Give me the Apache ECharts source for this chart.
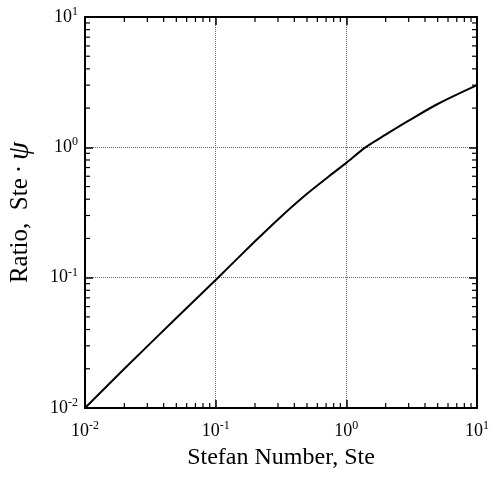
<!DOCTYPE html>
<html lang="en">
<head>
    <meta charset="UTF-8">
    <title>Stefan number ratio</title>
    <style>
        body { margin: 0; padding: 0; background: #fff; }
        #chart { width: 494px; height: 477px; }
    </style>
    <script src="https://cdn.jsdelivr.net/npm/echarts@6/dist/echarts.min.js"></script>
</head>
<body>
<div id="chart"></div>
<script>
	var chart = echarts.init(document.getElementById('chart'));

	// Stefan number (x) and ratio Ste*psi (y)
	var steValues = [0.01, 0.02, 0.05, 0.1, 0.2, 0.3, 0.5, 0.8, 1, 1.4, 2, 3, 5, 10];
	var ratioValues = [0.01, 0.02, 0.049, 0.096, 0.19, 0.28, 0.44, 0.64, 0.76, 1.0, 1.25, 1.6, 2.15, 3.0];
	var minorTicks = [
		0.02, 0.03, 0.04, 0.05, 0.06, 0.07, 0.08, 0.09,
		0.2, 0.3, 0.4, 0.5, 0.6, 0.7, 0.8, 0.9,
		2, 3, 4, 5, 6, 7, 8, 9
	];

	var font = 'Liberation Serif';

	var pts = [];
	for (var i = 0; i < steValues.length; i++) {
		pts.push([steValues[i], ratioValues[i]]);
	}

	function powLabel(v) {
		var e = Math.round(Math.log(v) / Math.LN10);
		return '{b|10}{s|' + e + '}';
	}

	var labelRich = {
		b: { fontFamily: font, fontSize: 18, color: '#000', lineHeight: 22 },
		s: { fontFamily: font, fontSize: 12, color: '#000', lineHeight: 22, verticalAlign: 'top' }
	};

	function logAxis(pos, showLabel) {
		return {
			type: 'log',
			logBase: 10,
			min: 0.01,
			max: 10,
			position: pos,
			axisLine: { show: true, lineStyle: { color: '#000', width: 2 } },
			axisTick: { show: true, inside: true, length: 8, lineStyle: { color: '#000', width: 1.5 } },
			minorTick: { show: false },
			splitLine: { show: showLabel, lineStyle: { color: '#666', type: 'dotted', width: 1 } },
			axisLabel: {
				show: showLabel,
				formatter: powLabel,
				rich: labelRich
			}
		};
	}

	var xBottom = logAxis('bottom', true);
	xBottom.name = 'Stefan Number, Ste';
	xBottom.nameLocation = 'middle';
	xBottom.nameGap = 38;
	xBottom.nameTextStyle = { fontFamily: font, fontSize: 24, color: '#000' };
	xBottom.axisLabel.margin = 12;

	var yLeft = logAxis('left', true);
	yLeft.name = 'Ratio,  Ste\u2009\u00b7\u2009{i|\u03c8}';
	yLeft.nameLocation = 'middle';
	yLeft.nameGap = 50;
	yLeft.nameTextStyle = {
		fontFamily: font, fontSize: 25, color: '#000',
		rich: { i: { fontFamily: font, fontSize: 29, fontStyle: 'italic', color: '#000' } }
	};
	yLeft.axisLabel.margin = 7;

	var option = {
		animation: false,
		backgroundColor: '#fff',
		grid: { left: 85, right: 17, top: 17, bottom: 69, containLabel: false, outerBoundsMode: 'none' },
		xAxis: [xBottom, logAxis('top', false)],
		yAxis: [yLeft, logAxis('right', false)],
		series: [
			{
				type: 'custom',
				name: 'minor ticks',
				xAxisIndex: 0,
				yAxisIndex: 0,
				silent: true,
				data: minorTicks.map(function (v) { return [v, v]; }),
				renderItem: function (params, api) {
					var v = api.value(0);
					var cs = params.coordSys;
					var px = api.coord([v, 0.01])[0];
					var py = api.coord([0.01, v])[1];
					var len = 5;
					var style = { stroke: '#000', lineWidth: 1.2 };
					return {
						type: 'group',
						children: [
							{ type: 'line', shape: { x1: px, y1: cs.y + cs.height, x2: px, y2: cs.y + cs.height - len }, style: style },
							{ type: 'line', shape: { x1: px, y1: cs.y, x2: px, y2: cs.y + len }, style: style },
							{ type: 'line', shape: { x1: cs.x, y1: py, x2: cs.x + len, y2: py }, style: style },
							{ type: 'line', shape: { x1: cs.x + cs.width, y1: py, x2: cs.x + cs.width - len, y2: py }, style: style }
						]
					};
				}
			},
			{
				type: 'line',
				name: 'Ste psi',
				xAxisIndex: 0,
				yAxisIndex: 0,
				data: pts,
				smooth: 0.3,
				showSymbol: false,
				lineStyle: { color: '#000', width: 2 }
			}
		]
	};
	chart.setOption(option);
</script>
</body>
</html>
